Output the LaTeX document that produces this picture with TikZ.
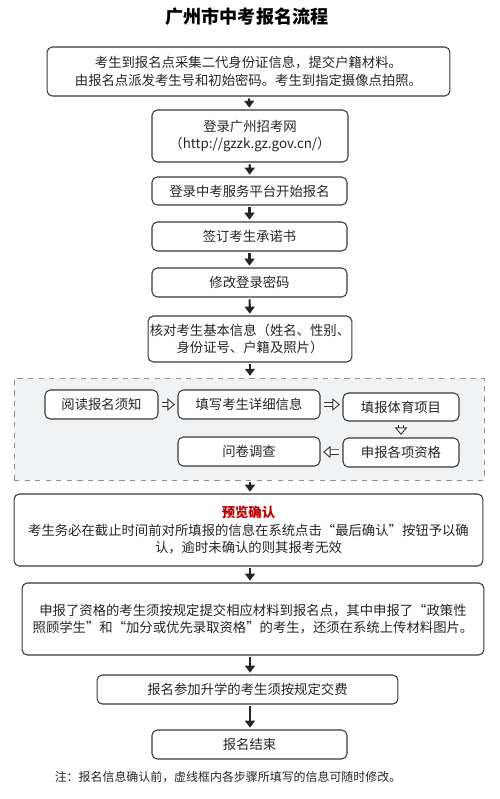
\documentclass[tikz,border=0pt]{standalone}
\usepackage{fontspec}
\setmainfont{Noto Sans CJK SC}
\usepackage{tikz}
\usetikzlibrary{arrows.meta, positioning}

\definecolor{boxline}{HTML}{3A3A3A}
\definecolor{zonefill}{HTML}{F1F2F4}
\definecolor{zoneline}{HTML}{8A929C}
\definecolor{alertred}{HTML}{C00000}

\begin{document}
\begin{tikzpicture}[x=0.02cm, y=-0.02cm,
	every node/.style={font=\fontsize{7.6pt}{10pt}\selectfont, text=black!85},
	stepbox/.style={draw=boxline, line width=0.6pt, rounded corners=3pt, fill=white, align=center, inner sep=1pt},
	flow/.style={-{Triangle[length=4pt, width=5.6pt]}, line width=1.2pt, black!85, shorten >=1pt, shorten <=1pt},
	hollow/.style={double=white, double distance=2.1pt, line width=0.5pt, draw=black!80, -{Triangle[open, fill=white, length=4.2pt, width=7pt, line width=0.5pt]}, shorten <=2pt, shorten >=1.5pt}]
	
	\useasboundingbox (0,0) rectangle (500,799);
	
	% Title
	\node[font=\fontsize{10.3pt}{12pt}\bfseries, text=black] (title) at (247,17) {广州市中考报名流程};
	
	% Main column
	\node[stepbox, minimum width=8.06cm, minimum height=0.98cm] (b1) at (248.5,71.5) {考生到报名点采集二代身份证信息，提交户籍材料。\\由报名点派发考生号和初始密码。考生到指定摄像点拍照。};
	\node[stepbox, minimum width=3.92cm, minimum height=1.04cm] (b2) at (250,136) {登录广州招考网\\（http://gzzk.gz.gov.cn/）};
	\node[stepbox, minimum width=3.9cm, minimum height=0.56cm] (b3) at (249.5,191) {登录中考服务平台开始报名};
	\node[stepbox, minimum width=3.9cm, minimum height=0.58cm] (b4) at (249.5,236.5) {签订考生承诺书};
	\node[stepbox, minimum width=3.9cm, minimum height=0.58cm] (b5) at (249.5,282.5) {修改登录密码};
	\node[stepbox, minimum width=3.92cm, minimum height=0.92cm] (b6) at (250,339) {核对考生基本信息（姓名、性别、\\身份证号、户籍及照片）};
	
	% Dashed zone
	\node[draw=zoneline, dashed, line width=0.5pt, fill=zonefill, minimum width=9.4cm, minimum height=2.04cm, inner sep=0pt] (zone) at (249,429) {};
	\node[stepbox, minimum width=2.26cm, minimum height=0.58cm] (r1) at (101.5,404.5) {阅读报名须知};
	\node[stepbox, minimum width=2.84cm, minimum height=0.58cm] (r2) at (249,404.5) {填写考生详细信息};
	\node[stepbox, minimum width=2.32cm, minimum height=0.56cm] (r3) at (401,407) {填报体育项目};
	\node[stepbox, minimum width=2.32cm, minimum height=0.58cm] (r4) at (401,452.5) {申报各项资格};
	\node[stepbox, minimum width=2.84cm, minimum height=0.58cm] (r5) at (249,451.5) {问卷调查};
	\draw[hollow] (r1) -- (r2);
	\draw[hollow] (r2.east) -- (r2.east -| r3.west);
	\draw[hollow] (r3) -- (r4);
	\draw[hollow] (r4) -- (r5);
	
	% Lower column
	\node[stepbox, minimum width=9.38cm, minimum height=1.44cm] (b7) at (248.5,530) {{\bfseries\color{alertred}预览确认}\\考生务必在截止时间前对所填报的信息在系统点击“最后确认”按钮予以确\\认，逾时未确认的则其报考无效};
	\node[stepbox, minimum width=9.24cm, minimum height=1.44cm] (b8) at (253,619) {申报了资格的考生须按规定提交相应材料到报名点，其中申报了“政策性\\照顾学生”和“加分或优先录取资格”的考生，还须在系统上传材料图片。};
	\node[stepbox, minimum width=6.02cm, minimum height=0.58cm] (b9) at (247.5,689.5) {报名参加升学的考生须按规定交费};
	\node[stepbox, minimum width=3.9cm, minimum height=0.58cm] (b10) at (249.5,744.5) {报名结束};
	
	\node[font=\fontsize{6.8pt}{8pt}\selectfont] (note) at (228,777) {注：报名信息确认前，虚线框内各步骤所填写的信息可随时修改。};
	
	% Arrows
	\draw[flow] (b1) -- (b2);
	\draw[flow] (b2) -- (b3);
	\draw[flow] (b3) -- (b4);
	\draw[flow] (b4) -- (b5);
	\draw[flow] (b5) -- (b6);
	\draw[flow] (b6.south) -- (b6.south |- zone.north);
	\draw[flow] (zone.south -| b6.south) -- (b7.north -| b6.south);
	\draw[flow] (b7.south -| b6.south) -- (b8.north -| b6.south);
	\draw[flow] (b8.south -| b6.south) -- (b9.north -| b6.south);
	\draw[flow] (b9.south -| b6.south) -- (b10.north -| b6.south);
	
\end{tikzpicture}
\end{document}
